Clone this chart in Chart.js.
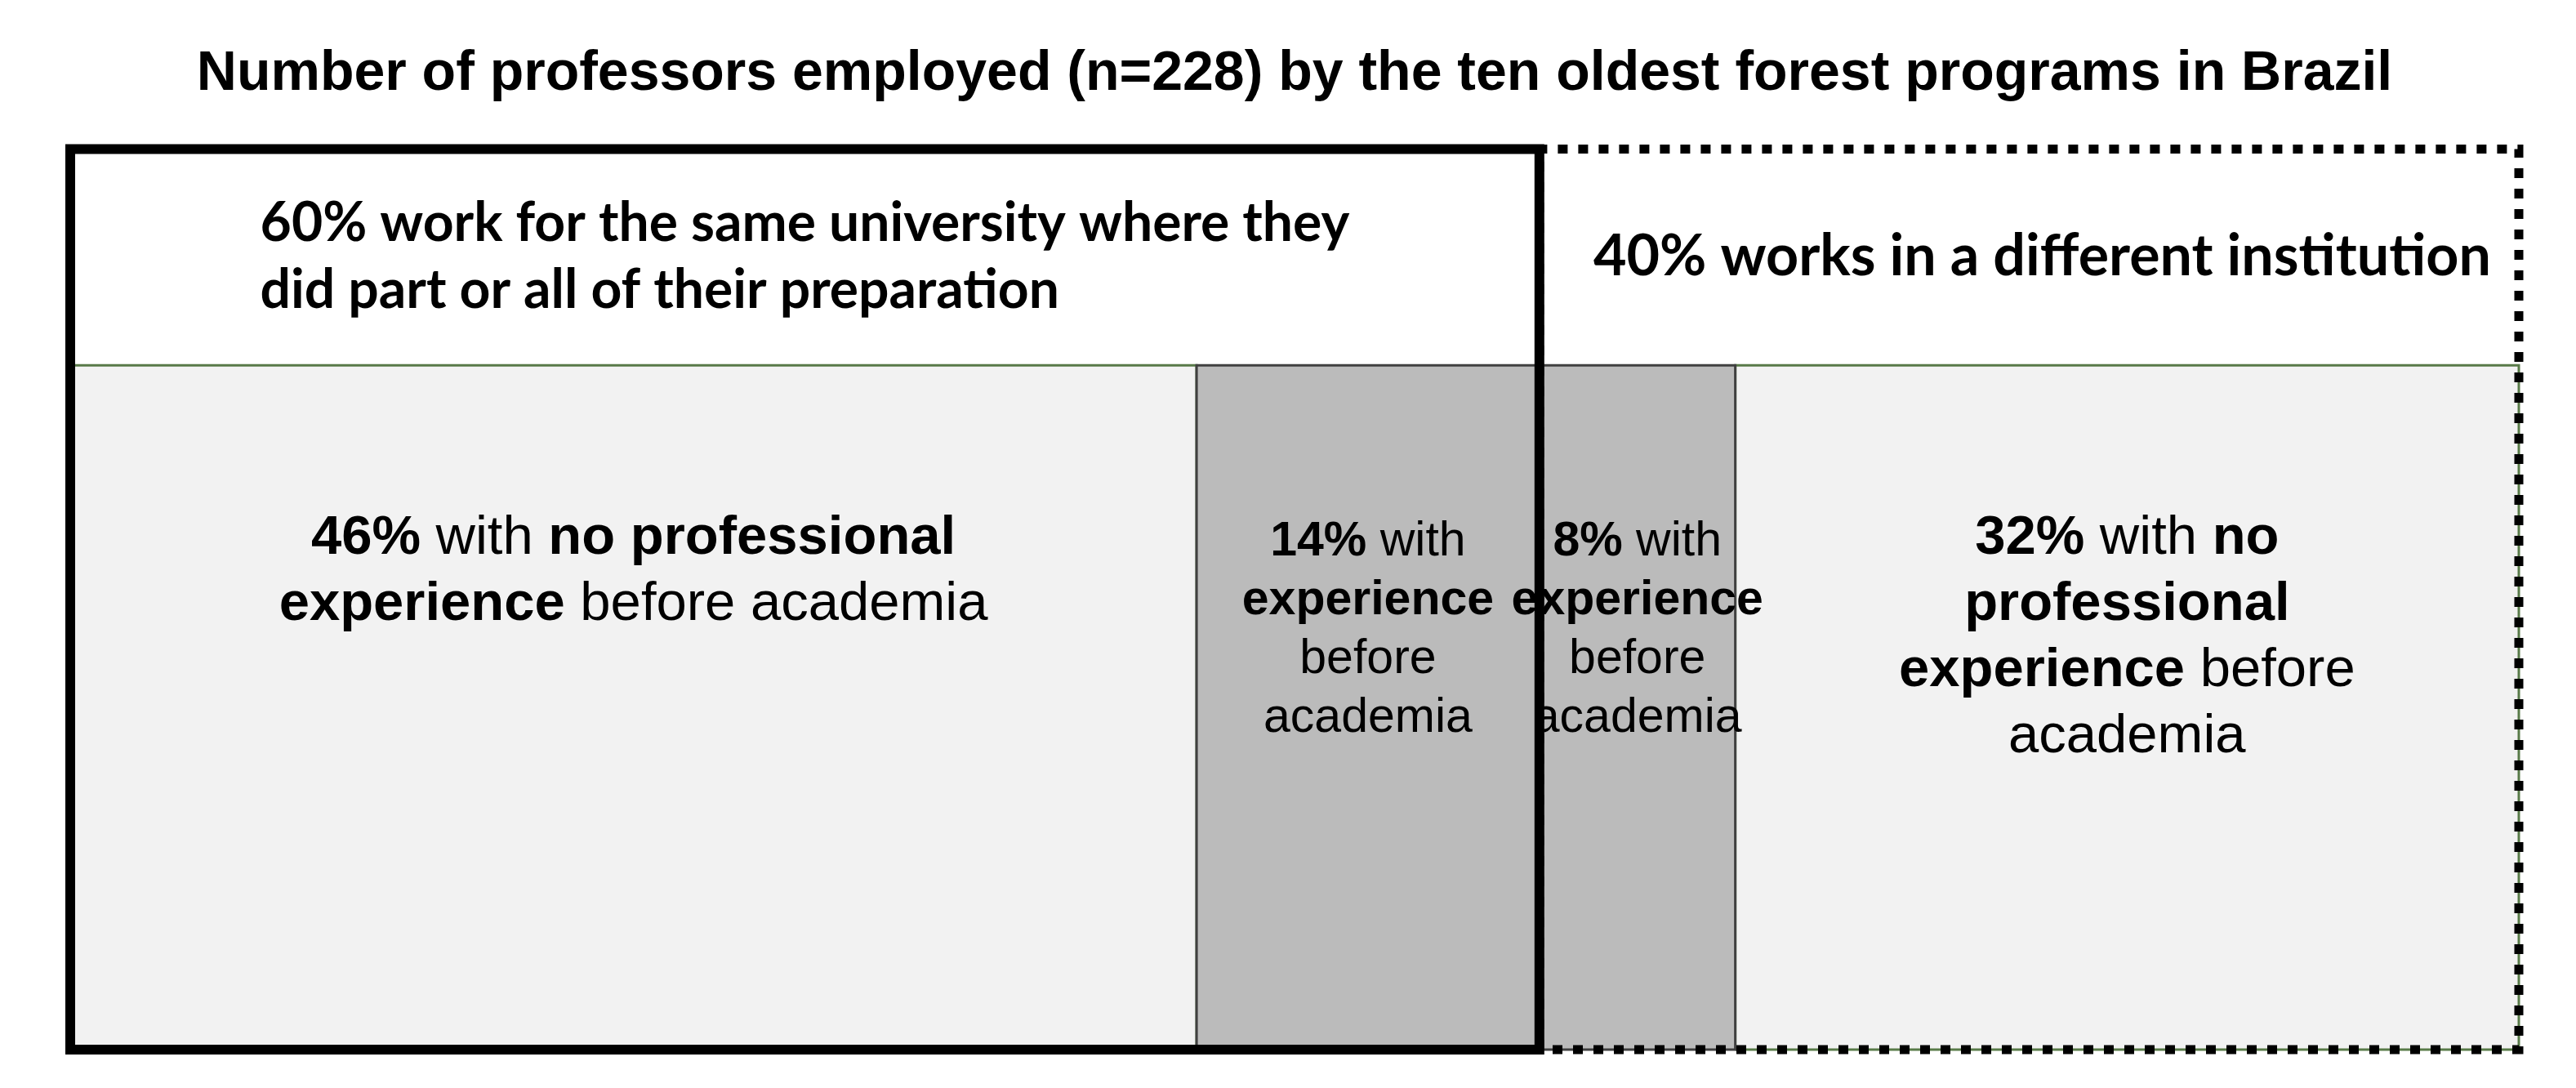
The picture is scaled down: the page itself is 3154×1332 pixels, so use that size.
<!DOCTYPE html>
<html><head><meta charset="utf-8">
<script src="https://cdn.jsdelivr.net/npm/chart.js@4.4.1/dist/chart.umd.min.js"></script>
<style>html,body{margin:0;padding:0;background:#fff;overflow:hidden}</style>
</head><body><canvas id="c" width="3154" height="1332"></canvas>
<script>
// ---- data ----
const chartTitle = 'Number of professors employed (n=228) by the ten oldest forest programs in Brazil';
const groupShares = [60, 40];
const groupLabels = [
  ['60% work for the same university where they', 'did part or all of their preparation'],
  ['40% works in a different institution']
];
const segmentShares = [46, 14, 8, 32];
const segmentExperience = [false, true, true, false];
const segmentLabels = [
  ['**46%** with **no professional**', '**experience** before academia'],
  ['**14%** with', '**experience**', 'before', 'academia'],
  ['**8%** with', '**experience**', 'before', 'academia'],
  ['**32%** with **no**', '**professional**', '**experience** before', 'academia']
];

// ---- layout (value space of the hidden y axis) ----
const Y_MAX = 100, BODY_TOP = 76, LABEL_TOP = 56.7, HEADER_MID = 88;

function cum(arr){ const out=[0]; arr.forEach(v=>out.push(out[out.length-1]+v)); return out; }
const gEdges = cum(groupShares), sEdges = cum(segmentShares);
function rect(x0,x1,y0,y1){ return [{x:x0,y:y0},{x:x0,y:y1},{x:x1,y:y1},{x:x1,y:y0},{x:x0,y:y0}]; }

const datasets = [];
// group outlines (drawn on top)
datasets.push({label:'same university', order:0, data:rect(gEdges[0],gEdges[1],0,Y_MAX), fill:false,
  borderColor:'#000', borderWidth:12, borderJoinStyle:'miter', borderCapStyle:'square'});
datasets.push({label:'different institution', order:1, data:rect(gEdges[1],gEdges[2],0,Y_MAX), fill:false,
  borderColor:'#000', borderWidth:11, borderDash:[12,13], borderCapStyle:'butt'});
// body cells
segmentShares.forEach((v,i)=>{
  const exp = segmentExperience[i];
  datasets.push({label:segmentLabels[i].join(' ').replace(/\*\*/g,''), order: exp ? 2 : 3,
    data:rect(sEdges[i],sEdges[i+1],0,BODY_TOP), fill:'shape',
    backgroundColor: exp ? '#bbbbbb' : '#f2f2f2',
    borderColor: exp ? '#404040' : '#587a48', borderWidth:3, borderJoinStyle:'miter'});
});
datasets.forEach(d=>{ d.pointRadius=0; d.pointHoverRadius=0; d.tension=0; d.clip=false; });

const BODY_FONT = '"Liberation Sans", Arial, sans-serif';
const HEAD_FONT = 'Lato, "Open Sans", sans-serif';

function drawRich(ctx, line, cx, cy, size, family, align){
  const parts = line.split('**');
  const runs = parts.map((t,k)=>({t, bold:k%2===1})).filter(r=>r.t.length);
  let total = 0;
  runs.forEach(r=>{ ctx.font=(r.bold?'bold ':'')+size+'px '+family; r.w=ctx.measureText(r.t).width; total+=r.w; });
  let x = align==='left' ? cx : cx-total/2;
  runs.forEach(r=>{ ctx.font=(r.bold?'bold ':'')+size+'px '+family; ctx.fillText(r.t,x,cy); x+=r.w; });
}

const labelPlugin = {
  id:'cellLabels',
  afterDatasetsDraw(chart){
    const {ctx, scales:{x,y}} = chart;
    ctx.save();
    ctx.fillStyle='#000'; ctx.textBaseline='middle'; ctx.textAlign='left';
    segmentLabels.forEach((lines,i)=>{
      const cx=(x.getPixelForValue(sEdges[i])+x.getPixelForValue(sEdges[i+1]))/2;
      const narrow = segmentShares[i] < 20;
      const size = narrow?59:67, lh = narrow?72:81;
      let cy = y.getPixelForValue(LABEL_TOP) + (narrow?4:0);
      lines.forEach(line=>{ drawRich(ctx,line,cx,cy,size,BODY_FONT); cy+=lh; });
    });
    groupLabels.forEach((lines,g)=>{
      const size = lines.length>1 ? 66 : 70, lh=82;
      const cx=(x.getPixelForValue(gEdges[g])+x.getPixelForValue(gEdges[g+1]))/2;
      ctx.font='bold '+size+'px '+HEAD_FONT;
      const maxW=Math.max(...lines.map(l=>ctx.measureText(l).width));
      let cy=y.getPixelForValue(HEADER_MID)-(lines.length-1)*lh/2;
      lines.forEach(l=>{
        if(lines.length>1) drawRich(ctx,'**'+l+'**',cx-maxW/2,cy,size,HEAD_FONT,'left');
        else drawRich(ctx,'**'+l+'**',cx+16,cy,size,HEAD_FONT);
        cy+=lh;
      });
    });
    ctx.restore();
  }
};

new Chart(document.getElementById('c'), {
  type:'line',
  data:{datasets},
  options:{
    responsive:false, animation:false, events:[],
    layout:{padding:{left:86,right:70,top:0,bottom:47}},
    scales:{
      x:{type:'linear',min:0,max:100,display:false},
      y:{type:'linear',min:0,max:Y_MAX,display:false}
    },
    plugins:{
      legend:{display:false}, tooltip:{enabled:false},
      title:{display:true,text:chartTitle,color:'#000',
        font:{family:BODY_FONT,size:68,weight:'bold',lineHeight:1.2},
        padding:{top:50,bottom:51}}
    }
  },
  plugins:[labelPlugin]
});
</script></body></html>
